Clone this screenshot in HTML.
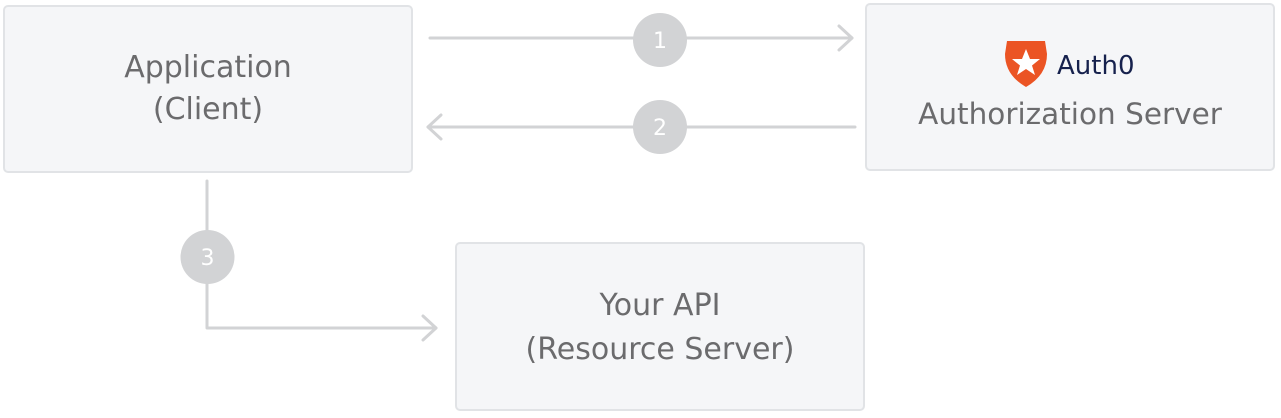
<!DOCTYPE html>
<html><head><meta charset="utf-8"><style>
html,body{margin:0;padding:0;background:#fff;width:1281px;height:418px;overflow:hidden}
.box{position:absolute;background:#f5f6f8;border:2px solid #e1e3e6;border-radius:5px;box-sizing:border-box;font-family:"DejaVu Sans","Liberation Sans",sans-serif;color:#6b6b6d;text-align:center;font-size:30px;line-height:42px}
</style></head><body>
<div class="box" style="left:3px;top:5px;width:410px;height:168px;padding-top:40px">Application<br>(Client)</div>
<div class="box" style="left:865px;top:3px;width:410px;height:168px;padding-top:88px;font-size:29.5px">Authorization Server</div>
<div class="box" style="left:455px;top:242px;width:410px;height:169px;padding-top:40px;line-height:44px">Your API<br>(Resource Server)</div>
<svg width="1281" height="418" style="position:absolute;left:0;top:0">
<g stroke="#d2d3d5" stroke-width="3" fill="none" stroke-linecap="round" stroke-linejoin="round">
<line x1="430" y1="38" x2="852" y2="38"/>
<polyline points="839,26 852,38 839,50"/>
<line x1="855" y1="127" x2="428" y2="127"/>
<polyline points="441,115 428,127 441,139"/>
<polyline points="207,181 207,328 436,328"/>
<polyline points="423,316 436,328 423,340"/>
</g>
<g fill="#d2d3d5"><circle cx="660" cy="40" r="27"/><circle cx="660" cy="127" r="27"/><circle cx="207.5" cy="257" r="27"/></g>
<g fill="#fff" font-family="DejaVu Sans,Liberation Sans,sans-serif" font-size="22" text-anchor="middle">
<text x="660" y="48">1</text><text x="660" y="135">2</text><text x="207.5" y="265">3</text></g>
<path d="M1007,41 L1045,41 L1047,54 Q1047,75 1026,87 Q1005,75 1005,54 Z" fill="#eb5424"/>
<polygon points="1026,49 1030,59 1040,59 1032,65.5 1035,75 1026,69 1017,75 1020,65.5 1012,59 1022,59" fill="#fff"/>
<text x="1057" y="74" font-family="DejaVu Sans,Liberation Sans,sans-serif" font-size="26" fill="#16214d">Auth0</text>
</svg>
</body></html>
